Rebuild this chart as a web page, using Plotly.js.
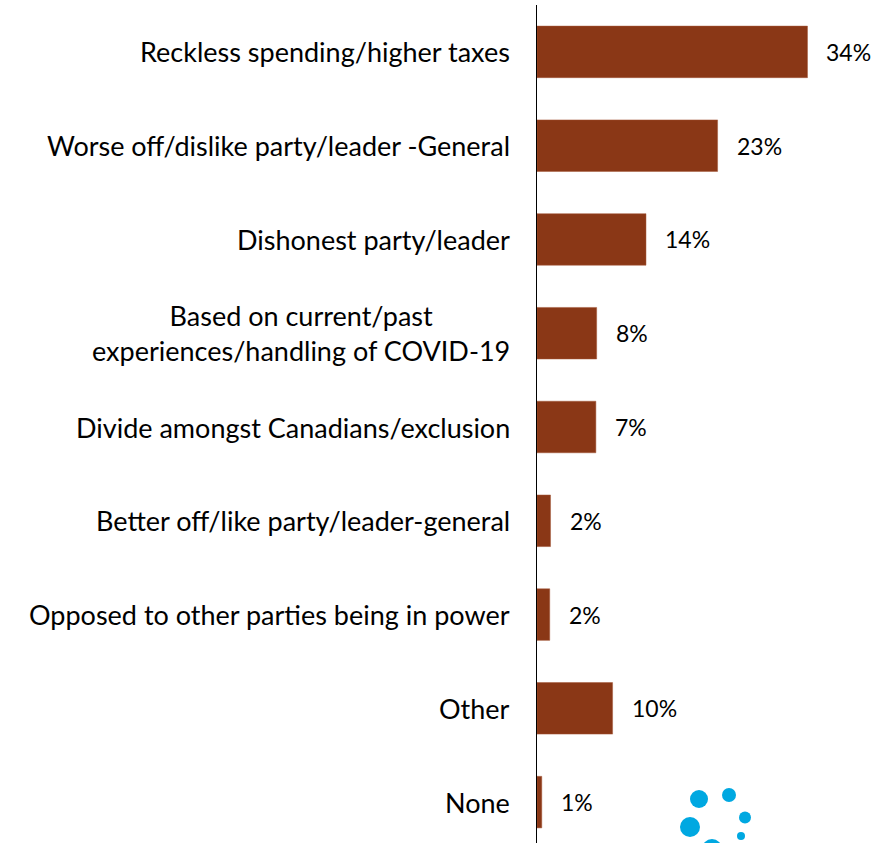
<!DOCTYPE html>
<html>
<head>
<meta charset="utf-8">
<script src="https://cdn.plot.ly/plotly-3.0.1.min.js"></script>
<style>html,body{margin:0;padding:0;background:#fff;overflow:hidden}</style>
</head>
<body>
<div id="chart" style="width:895px;height:843px"></div>
<script>
const categories = [
  "Reckless spending/higher taxes",
  "Worse off/dislike party/leader -General",
  "Dishonest party/leader",
  "Based on current/past<br>experiences/handling of COVID-19",
  "Divide amongst Canadians/exclusion",
  "Better off/like party/leader-general",
  "Opposed to other parties being in power",
  "Other",
  "None"
];
const values = [34, 22.7, 13.7, 7.5, 7.4, 1.7, 1.6, 9.5, 0.6];
const valueLabels = ["34%", "23%", "14%", "8%", "7%", "2%", "2%", "10%", "1%"];

const font = "Lato, 'Open Sans', sans-serif";
const barColor = "#8A3716";

const trace = {
  type: "bar",
  orientation: "h",
  y: categories,
  x: values,
  marker: {color: barColor, line: {color: "#A4593A", width: 0.5}},
  hoverinfo: "none"
};

const annotations = [];
categories.forEach((c, i) => {
  annotations.push({
    xref: "paper", yref: "y", x: 0, y: c,
    xanchor: "right", yanchor: "middle", xshift: -25,
    text: c, showarrow: false, align: "center",
    font: {family: font, size: 27, color: "#000"}
  });
  annotations.push({
    xref: "x", yref: "y", x: values[i], y: c,
    xanchor: "left", yanchor: "middle", xshift: 17,
    text: valueLabels[i], showarrow: false,
    font: {family: font, size: 23, color: "#000"}
  });
});

// decorative logo dots (pixel positions converted to paper coords)
const plotL = 537, plotW = 358, plotT = 5, plotH = 838;
const dots = [[699, 799, 9], [729, 795, 7], [745, 817.5, 6], [690, 827, 10], [741, 836, 4], [712, 849, 10]];
const shapes = dots.map(d => ({
  type: "circle", xref: "paper", yref: "paper",
  xsizemode: "pixel", ysizemode: "pixel",
  xanchor: (d[0] - plotL) / plotW, yanchor: (plotT + plotH - d[1]) / plotH,
  x0: -d[2], x1: d[2], y0: -d[2], y1: d[2],
  fillcolor: "#00A8E1", line: {width: 0}
}));

const layout = {
  width: 895, height: 843,
  margin: {l: plotL, r: 0, t: plotT, b: 0},
  paper_bgcolor: "#fff", plot_bgcolor: "#fff",
  showlegend: false,
  bargap: 0.45,
  xaxis: {range: [0, 45], showgrid: false, zeroline: false, showticklabels: false, showline: false, fixedrange: true},
  yaxis: {
    type: "category", categoryorder: "array", categoryarray: categories,
    range: [8.436, -0.5], autorange: false,
    showticklabels: false, ticks: "", showgrid: false, zeroline: false,
    showline: true, linecolor: "#000", linewidth: 1.5
  },
  annotations: annotations,
  shapes: shapes
};

Plotly.newPlot("chart", [trace], layout, {displayModeBar: false, staticPlot: true});
</script>
</body>
</html>
